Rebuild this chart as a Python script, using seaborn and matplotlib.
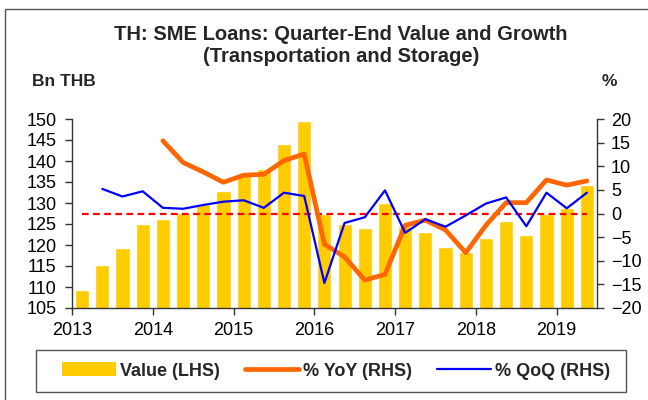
import numpy as np
import pandas as pd
import matplotlib
matplotlib.use("Agg")
import matplotlib.pyplot as plt
from matplotlib.patches import Patch, Rectangle
from matplotlib.lines import Line2D
import seaborn as sns

sns.set_style("ticks")
plt.rcParams["font.family"] = ["Liberation Sans", "DejaVu Sans"]

quarters = ["2013Q1", "2013Q2", "2013Q3", "2013Q4",
            "2014Q1", "2014Q2", "2014Q3", "2014Q4",
            "2015Q1", "2015Q2", "2015Q3", "2015Q4",
            "2016Q1", "2016Q2", "2016Q3", "2016Q4",
            "2017Q1", "2017Q2", "2017Q3", "2017Q4",
            "2018Q1", "2018Q2", "2018Q3", "2018Q4",
            "2019Q1", "2019Q2"]
value = [109.4, 115.2, 119.4, 124.9, 126.3, 127.7, 129.8, 132.9, 136.4, 138.0,
         144.0, 149.5, 127.5, 125.1, 124.0, 130.1, 124.5, 123.1, 119.6, 118.4,
         121.7, 125.7, 122.3, 127.5, 128.9, 134.4]
yoy = [np.nan, np.nan, np.nan, np.nan, 15.4, 10.8, 8.8, 6.6, 8.1, 8.3,
       11.2, 12.6, -6.5, -9.2, -14.1, -12.9, -2.5, -1.4, -3.5, -8.3,
       -2.5, 2.3, 2.3, 7.1, 6.0, 6.9]
qoq = [np.nan, 5.2, 3.6, 4.7, 1.2, 1.0, 1.8, 2.5, 2.8, 1.2,
       4.4, 3.7, -14.7, -2.0, -0.8, 4.9, -4.1, -1.2, -2.8, -0.4,
       2.1, 3.4, -2.7, 4.4, 1.1, 4.4]
years = ["2013", "2014", "2015", "2016", "2017", "2018", "2019"]

df = pd.DataFrame({"quarter": quarters, "value": value, "yoy": yoy, "qoq": qoq})
df["pos"] = np.arange(len(df))

bar_color = "#FFCC00"
yoy_color = "#FF6600"
qoq_color = "#0000FF"

fig = plt.figure(figsize=(6.48, 4), dpi=100)
ax = fig.add_axes([72 / 648, 92 / 400, 525 / 648, 189 / 400])

sns.barplot(data=df, x="pos", y="value", native_scale=True, color=bar_color,
            saturation=1, width=0.7, ax=ax, zorder=1)
ax.set_ylim(105, 150)
ax.set_yticks(np.arange(105, 151, 5))
ax.set_xlim(-0.5, len(df) - 0.5)
ax.set_xticks(np.arange(len(years)) * 4 - 0.5)
ax.set_xticklabels(years)
ax.set_xlabel("")
ax.set_ylabel("")

ax2 = ax.twinx()
ax2.hlines(0, df["pos"].iloc[0], df["pos"].iloc[-1], colors="#FF0000",
           linestyles=(0, (3, 2)), linewidth=1.6, zorder=2)
sns.lineplot(data=df, x="pos", y="yoy", color=yoy_color, linewidth=3.4, ax=ax2, zorder=3)
sns.lineplot(data=df, x="pos", y="qoq", color=qoq_color, linewidth=1.6, ax=ax2, zorder=4)
ax2.set_ylim(-20, 20)
ax2.set_yticks(np.arange(-20, 21, 5))
ax2.set_ylabel("")
ax2.set_xlabel("")

for a in (ax, ax2):
    a.spines["top"].set_visible(False)
    for s in a.spines.values():
        s.set_color("#333333")
        s.set_linewidth(1)
    a.tick_params(labelsize=13, length=5, width=1, color="#333333", labelcolor="black")
ax.tick_params(axis="y", pad=6)
ax.tick_params(axis="x", pad=5)
ax2.tick_params(axis="y", pad=5)
ax.spines["right"].set_visible(False)
ax2.spines["left"].set_visible(False)
ax2.spines["bottom"].set_visible(False)

fig.text(341 / 648, 1 - 35 / 400, "TH: SME Loans: Quarter-End Value and Growth",
         ha="center", va="center", fontsize=14.5, fontweight="bold")
fig.text(341 / 648, 1 - 56 / 400, "(Transportation and Storage)",
         ha="center", va="center", fontsize=14.5, fontweight="bold")
fig.text(32 / 648, 1 - 81 / 400, "Bn THB", ha="left", va="center",
         fontsize=12.5, fontweight="bold")
fig.text(609 / 648, 1 - 82 / 400, "%", ha="center", va="center",
         fontsize=12.5, fontweight="bold")

# outer frame and legend box
fig.patches.append(Rectangle((5 / 648, -0.05), 1.2, 1 - 9 / 400 + 0.05,
                             transform=fig.transFigure, fill=False,
                             edgecolor="#555555", linewidth=1))
fig.patches.append(Rectangle((36 / 648, 8 / 400), 590 / 648, 42 / 400,
                             transform=fig.transFigure, fill=False,
                             edgecolor="#555555", linewidth=1))

handles = [Patch(facecolor=bar_color, edgecolor="none"),
           Line2D([], [], color=yoy_color, linewidth=3.4),
           Line2D([], [], color=qoq_color, linewidth=1.6)]
labels = ["Value (LHS)", "% YoY (RHS)", "% QoQ (RHS)"]
fig.legend(handles, labels, loc="center", bbox_to_anchor=(336 / 648, 29 / 400),
           ncol=3, frameon=False, handlelength=3.0, handleheight=0.8,
           handletextpad=0.2, columnspacing=1.4,
           prop={"weight": "bold", "size": 13})

fig.savefig("out.png", dpi=100)
